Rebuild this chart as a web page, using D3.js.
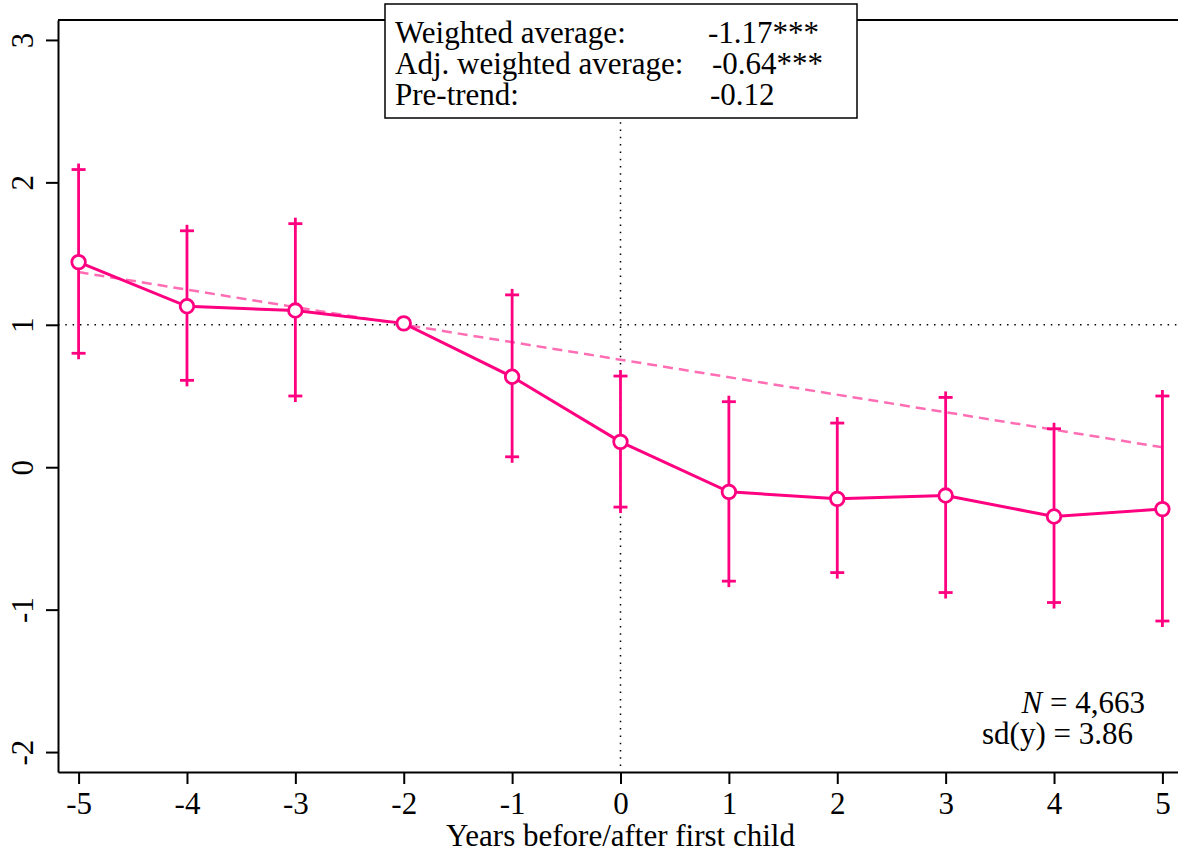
<!DOCTYPE html>
<meta charset="utf-8">
<style>
body { margin: 0; background: #fff; }
text { font-family: "Liberation Serif", "Times New Roman", serif; fill: #000; }
.axis path, .axis line { stroke: #000; stroke-width: 2px; }
</style>
<body>
<script src="https://d3js.org/d3.v7.min.js"></script>
<script>
// event years and estimates
var years = [-5, -4, -3, -2, -1, 0, 1, 2, 3, 4, 5];
var estimate = [1.44, 1.13, 1.10, 1.01, 0.635, 0.178, -0.173, -0.222, -0.199, -0.346, -0.294];
var ciLow  = [0.80, 0.61, 0.50, null, 0.073, -0.28, -0.80, -0.74, -0.88, -0.95, -1.08];
var ciHigh = [2.09, 1.66, 1.71, null, 1.21, 0.64, 0.46, 0.31, 0.49, 0.27, 0.50];
var trendYears = [-5, 5];
var trendValues = [1.37, 0.14];
var yTicks = [-2, -1, 0, 1, 2, 3];
var xTicks = years;
var boxLabels = ["Weighted average:", "Adj. weighted average:", "Pre-trend:"];
var boxValues = ["-1.17***", "-0.64***", "-0.12"];

var W = 1178, H = 854;
var mLeft = 58, mRight = 1183, mTop = 20, mBottom = 772;
var pink = "#ff0080", lightPink = "#ff6eb4";
var serif = "'Liberation Serif', 'Times New Roman', serif";
var fmt = function(d) { return String(d); };  // plain hyphen minus

var svg = d3.select("body").append("svg")
    .attr("width", W).attr("height", H);

var x = d3.scaleLinear().domain([-5.19, 5.19]).range([mLeft, mRight]);
var y = d3.scaleLinear().domain([-2.14, 3.14]).range([mBottom, mTop]);

// top frame line
svg.append("line")
    .attr("x1", mLeft).attr("x2", mRight)
    .attr("y1", mTop).attr("y2", mTop)
    .attr("stroke", "#000").attr("stroke-width", 2);

// reference lines (dotted)
svg.append("line")
    .attr("x1", mLeft).attr("x2", mRight)
    .attr("y1", y(1)).attr("y2", y(1))
    .attr("stroke", "#000").attr("stroke-width", 1.5)
    .attr("stroke-dasharray", "1.5,5.8");
svg.append("line")
    .attr("x1", x(0)).attr("x2", x(0))
    .attr("y1", mTop).attr("y2", mBottom)
    .attr("stroke", "#000").attr("stroke-width", 1.5)
    .attr("stroke-dasharray", "1.5,5.8");

// axes
var xAxis = svg.append("g").attr("class", "axis")
    .attr("transform", "translate(0," + mBottom + ")")
    .call(d3.axisBottom(x).tickValues(xTicks).tickSize(12).tickSizeOuter(0)
        .tickFormat(fmt));
xAxis.attr("font-family", serif).attr("font-size", 31);
xAxis.selectAll("text").attr("dy", null).attr("y", 42);

var yAxis = svg.append("g").attr("class", "axis")
    .attr("transform", "translate(" + mLeft + ",0)")
    .call(d3.axisLeft(y).tickValues(yTicks).tickSize(12).tickSizeOuter(0)
        .tickFormat(fmt));
yAxis.attr("font-family", serif).attr("font-size", 31);
yAxis.selectAll("text")
    .attr("x", null).attr("dy", null)
    .attr("text-anchor", "middle")
    .attr("transform", "translate(-25,0) rotate(-90)");

svg.append("text")
    .attr("x", x(0)).attr("y", 846)
    .attr("text-anchor", "middle")
    .style("font-size", "31px")
    .text("Years before/after first child");

// pre-trend line
svg.append("line")
    .attr("x1", x(trendYears[0])).attr("y1", y(trendValues[0]))
    .attr("x2", x(trendYears[1])).attr("y2", y(trendValues[1]))
    .attr("stroke", lightPink).attr("stroke-width", 2.5)
    .attr("stroke-dasharray", "10,6");

// error bars
var data = years.map(function(d, i) {
    return {year: d, est: estimate[i], lo: ciLow[i], hi: ciHigh[i]};
});
var bars = data.filter(function(d) { return d.lo !== null; });
var eb = svg.append("g").attr("stroke", pink).attr("stroke-width", 2.8);
eb.selectAll(".v").data(bars).enter().append("line")
    .attr("x1", function(d) { return x(d.year); })
    .attr("x2", function(d) { return x(d.year); })
    .attr("y1", function(d) { return y(d.hi) - 6; })
    .attr("y2", function(d) { return y(d.lo) + 6; });
eb.selectAll(".hi").data(bars).enter().append("line")
    .attr("x1", function(d) { return x(d.year) - 7; })
    .attr("x2", function(d) { return x(d.year) + 7; })
    .attr("y1", function(d) { return y(d.hi); })
    .attr("y2", function(d) { return y(d.hi); });
eb.selectAll(".lo").data(bars).enter().append("line")
    .attr("x1", function(d) { return x(d.year) - 7; })
    .attr("x2", function(d) { return x(d.year) + 7; })
    .attr("y1", function(d) { return y(d.lo); })
    .attr("y2", function(d) { return y(d.lo); });

// estimate line and markers
svg.append("path")
    .datum(data)
    .attr("fill", "none")
    .attr("stroke", pink).attr("stroke-width", 3)
    .attr("d", d3.line()
        .x(function(d) { return x(d.year); })
        .y(function(d) { return y(d.est); }));
svg.selectAll(".pt").data(data).enter().append("circle")
    .attr("cx", function(d) { return x(d.year); })
    .attr("cy", function(d) { return y(d.est); })
    .attr("r", 6.8)
    .attr("fill", "#fff")
    .attr("stroke", pink).attr("stroke-width", 2.8);

// summary box
var box = svg.append("g");
box.append("rect")
    .attr("x", 385).attr("y", 4)
    .attr("width", 472).attr("height", 114)
    .attr("fill", "#fff").attr("stroke", "#000").attr("stroke-width", 1.5);
var valueX = [708, 712, 710];
boxLabels.forEach(function(lab, i) {
    box.append("text").attr("x", 395).attr("y", 43 + i * 31)
        .style("font-size", "31px").text(lab);
    box.append("text").attr("x", valueX[i]).attr("y", 43 + i * 31)
        .style("font-size", "31px").text(boxValues[i]);
});

// sample notes
var note1 = svg.append("text").attr("x", 1145).attr("y", 713)
    .attr("text-anchor", "end").style("font-size", "31px");
note1.append("tspan").style("font-style", "italic").text("N");
note1.append("tspan").text(" = 4,663");
svg.append("text").attr("x", 1133).attr("y", 744)
    .attr("text-anchor", "end").style("font-size", "31px")
    .text("sd(y) = 3.86");
</script>
</body>
